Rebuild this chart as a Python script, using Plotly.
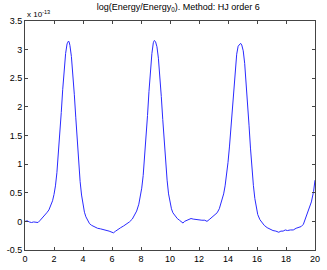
import plotly.graph_objects as go

# time axis
t = [0.0, 0.15, 0.3, 0.45, 0.6, 0.75, 0.9, 1.05, 1.2, 1.35, 1.5, 1.65, 1.8, 1.9, 2.0,
     2.1, 2.2, 2.3, 2.4, 2.5, 2.6, 2.7, 2.8, 2.9, 2.95, 3.0, 3.05, 3.1, 3.2, 3.3, 3.4,
     3.5, 3.6, 3.7, 3.8, 3.9, 4.0, 4.1, 4.2, 4.3, 4.45, 4.6, 4.8, 5.0, 5.2, 5.4, 5.6,
     5.8, 6.0, 6.1, 6.25, 6.45, 6.6, 6.8, 7.0, 7.2, 7.4, 7.55, 7.7, 7.85, 7.95, 8.05,
     8.15, 8.25, 8.35, 8.45, 8.55, 8.65, 8.75, 8.85, 8.92, 9.0, 9.1, 9.2, 9.3, 9.4,
     9.5, 9.6, 9.7, 9.8, 9.9, 10.0, 10.1, 10.2, 10.35, 10.5, 10.65, 10.8, 10.9, 11.0,
     11.15, 11.3, 11.45, 11.6, 11.8, 12.0, 12.2, 12.4, 12.55, 12.7, 12.9, 13.1, 13.25,
     13.4, 13.55, 13.7, 13.8, 13.9, 14.0, 14.1, 14.2, 14.3, 14.4, 14.5, 14.6, 14.7,
     14.8, 14.87, 14.95, 15.05, 15.15, 15.25, 15.35, 15.45, 15.55, 15.65, 15.75, 15.85,
     15.95, 16.05, 16.2, 16.35, 16.5, 16.7, 16.9, 17.1, 17.3, 17.5, 17.65, 17.8, 17.95,
     18.1, 18.3, 18.5, 18.7, 18.9, 19.05, 19.2, 19.3, 19.45, 19.6, 19.75, 19.9, 20.0]

# log(Energy/Energy_0) in units of 1e-13
energy = [0.00, 0.01, -0.01, -0.02, -0.01, -0.02, -0.02, 0.02, 0.06, 0.10, 0.15, 0.20,
          0.28, 0.36, 0.47, 0.62, 0.85, 1.15, 1.50, 1.90, 2.30, 2.66, 2.93, 3.10, 3.14,
          3.15, 3.13, 3.07, 2.88, 2.58, 2.22, 1.82, 1.40, 1.02, 0.70, 0.46, 0.28, 0.16,
          0.08, 0.02, -0.04, -0.07, -0.10, -0.12, -0.13, -0.14, -0.15, -0.17, -0.19,
          -0.20, -0.17, -0.13, -0.11, -0.08, -0.05, -0.01, 0.04, 0.10, 0.18, 0.30, 0.42,
          0.58, 0.80, 1.10, 1.45, 1.85, 2.27, 2.64, 2.93, 3.12, 3.16, 3.14, 3.05, 2.85,
          2.55, 2.18, 1.78, 1.38, 1.02, 0.72, 0.48, 0.32, 0.22, 0.15, 0.09, 0.05, 0.02,
          -0.01, -0.03, 0.00, 0.02, 0.04, 0.05, 0.04, 0.03, 0.03, 0.02, 0.02, 0.00, 0.03,
          0.07, 0.11, 0.15, 0.22, 0.34, 0.48, 0.62, 0.80, 1.03, 1.30, 1.62, 1.98, 2.35,
          2.68, 2.92, 3.06, 3.10, 3.11, 3.08, 2.98, 2.76, 2.45, 2.08, 1.68, 1.28, 0.92,
          0.63, 0.40, 0.23, 0.12, 0.03, -0.03, -0.07, -0.11, -0.14, -0.16, -0.17, -0.19,
          -0.17, -0.17, -0.15, -0.16, -0.15, -0.15, -0.12, -0.10, -0.09, -0.05, 0.02,
          0.10, 0.20, 0.34, 0.52, 0.72]

xticks = [0, 2, 4, 6, 8, 10, 12, 14, 16, 18, 20]
yticks = [-0.5, 0, 0.5, 1, 1.5, 2, 2.5, 3, 3.5]
ytext = ["-0.5", "0", "0.5", "1", "1.5", "2", "2.5", "3", "3.5"]

font = "Liberation Sans, Arial, sans-serif"

fig = go.Figure()
fig.add_trace(go.Scatter(x=t, y=energy, mode="lines",
                         line=dict(color="#2a2aff", width=1), hoverinfo="skip"))

axis_common = dict(showgrid=False, zeroline=False, showline=True, mirror="ticks",
                   linecolor="#444444", linewidth=1, ticks="inside", ticklen=3,
                   tickcolor="#444444", automargin=False,
                   tickfont=dict(family=font, size=9, color="black"))

fig.update_layout(
    width=327, height=270,
    margin=dict(l=25, r=12, t=21, b=20),
    paper_bgcolor="white", plot_bgcolor="white",
    showlegend=False,
    title=dict(text="log(Energy/Energy<sub>0</sub>). Method: HJ order 6",
               x=0.545, xanchor="center", y=0.985, yanchor="top",
               font=dict(family=font, size=9, color="black")),
    xaxis=dict(range=[0, 20], tickvals=xticks, ticktext=[str(v) for v in xticks],
               **axis_common),
    yaxis=dict(range=[-0.5, 3.5], tickvals=yticks, ticktext=ytext, **axis_common),
    annotations=[dict(text="x 10<sup>-13</sup>", xref="paper", yref="paper",
                      x=0.0, y=1.0, xanchor="left", yanchor="bottom", showarrow=False,
                      font=dict(family=font, size=8, color="black"))],
)

fig.write_html("out.html", config={"displayModeBar": False},
               post_script="document.body.style.margin='0';document.body.style.overflow='hidden';")
